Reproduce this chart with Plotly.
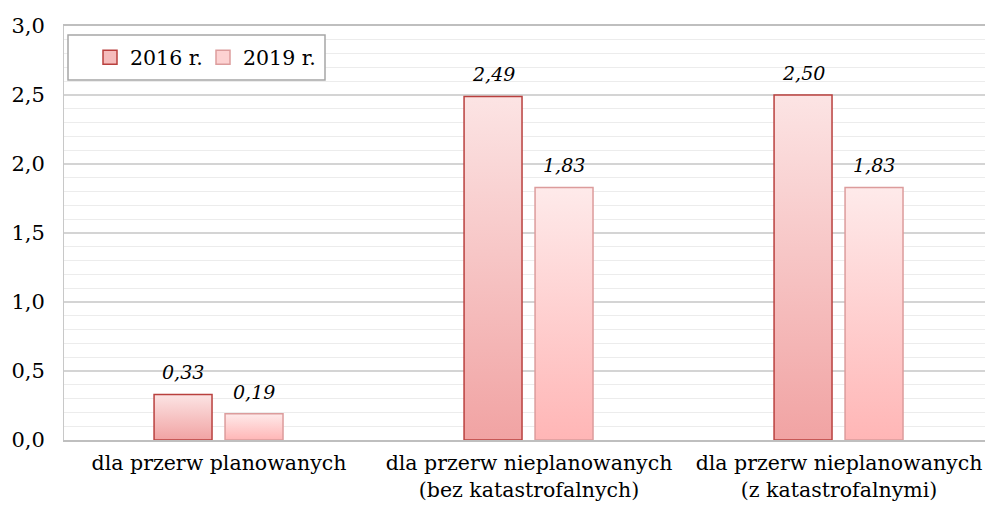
import plotly.graph_objects as go

# Wskaźniki przerw – porównanie lat 2016 i 2019
categories = [
    "dla przerw planowanych",
    "dla przerw nieplanowanych<br>(bez katastrofalnych)",
    "dla przerw nieplanowanych<br>(z katastrofalnymi)",
]
years = ["2016 r.", "2019 r."]
values_2016 = [0.33, 2.49, 2.50]
values_2019 = [0.19, 1.83, 1.83]
y_ticks = [0.0, 0.5, 1.0, 1.5, 2.0, 2.5, 3.0]

series = [values_2016, values_2019]
# per-series style: bar offset from category centre, gradient (bottom -> top), border
styles = [
    dict(offset=-0.116, fill=["#f1a3a3", "#fce4e4"], line="#b9403e", swatch="#f5bcbc"),
    dict(offset=0.113, fill=["#ffb6b6", "#feeaea"], line="#dc9c9c", swatch="#fdd2d2"),
]
bar_width = 0.187
FONT = "DejaVu Serif"

# plot-area geometry in pixels (used to place the legend frame)
W, H = 985, 510
ML, MR, MT, MB = 64, 0, 26, 70
PW, PH = W - ML - MR, H - MT - MB


def px_x(p):
    return (p - ML) / PW


def px_y(p):
    return (H - MB - p) / PH


fig = go.Figure()
for s, (name, vals, st) in enumerate(zip(years, series, styles)):
    for i, v in enumerate(vals):
        xc = i + st["offset"]
        x0, x1 = xc - bar_width / 2, xc + bar_width / 2
        fig.add_trace(go.Scatter(
            x=[x0, x0, x1, x1, x0],
            y=[0, v, v, 0, 0],
            mode="lines",
            fill="toself",
            fillgradient=dict(
                type="vertical",
                start=0, stop=v,
                colorscale=[[0, st["fill"][0]], [1, st["fill"][1]]],
            ),
            line=dict(color=st["line"], width=1.5),
            name=name,
            showlegend=False,
            hoverinfo="skip",
        ))
        fig.add_annotation(
            x=xc, y=v,
            text=f"{v:.2f}".replace(".", ","),
            showarrow=False,
            yanchor="bottom",
            yshift=9,
            font=dict(family=FONT, size=19, color="#000000", style="italic"),
        )
    # legend entry: small square swatch
    fig.add_trace(go.Scatter(
        x=[None], y=[None],
        mode="markers",
        marker=dict(symbol="square", size=14, color=st["swatch"],
                    line=dict(color=st["line"], width=1.5)),
        name=name,
        showlegend=True,
        hoverinfo="skip",
    ))

# legend frame
fig.add_shape(
    type="rect", xref="paper", yref="paper",
    x0=px_x(68), x1=px_x(325), y0=px_y(80), y1=px_y(35),
    line=dict(color="#a6a6a6", width=1.5),
    fillcolor="white",
    layer="above",
)

fig.update_layout(
    width=W, height=H,
    margin=dict(l=ML, r=MR, t=MT, b=MB),
    paper_bgcolor="white",
    plot_bgcolor="white",
    separators=", ",
    font=dict(family=FONT, size=20.5, color="#000000"),
    legend=dict(
        x=px_x(90), y=px_y(57.5), xanchor="left", yanchor="middle",
        orientation="h",
        bgcolor="rgba(0,0,0,0)",
        borderwidth=0,
        font=dict(family=FONT, size=20.5),
        itemwidth=30,
        entrywidth=68,
        tracegroupgap=0,
    ),
    xaxis=dict(
        range=[-0.5, -0.5 + PW / 310],
        tickvals=[0, 1, 2],
        ticktext=categories,
        showgrid=False,
        zeroline=False,
        showline=True, linecolor="#bfbfbf", linewidth=1.5,
        mirror=True,
        ticks="",
        ticklabelstandoff=4,
        fixedrange=True,
    ),
    yaxis=dict(
        range=[0, 3.0],
        tickvals=y_ticks,
        tickformat=".1f",
        tickfont=dict(family=FONT, size=21),
        showgrid=True, gridcolor="#d4d4d4", gridwidth=1.5,
        minor=dict(dtick=0.1, showgrid=True, gridcolor="#ececec", gridwidth=1),
        zeroline=False,
        showline=True, linecolor="#c8c8c8", linewidth=1,
        mirror=True,
        ticks="",
        ticklabelstandoff=14,
        fixedrange=True,
    ),
)

fig.write_html("out.html")
